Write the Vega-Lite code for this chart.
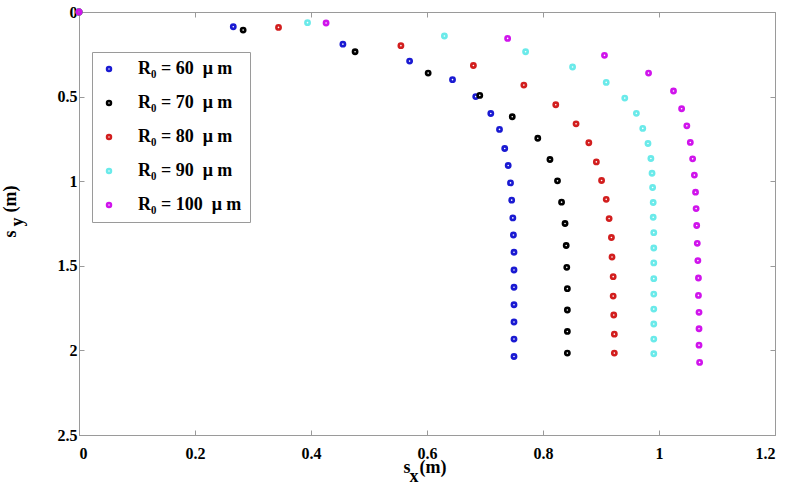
{
  "$schema": "https://vega.github.io/schema/vega-lite/v6.json",
  "width": 696,
  "height": 423,
  "autosize": {"type": "none"},
  "padding": {"left": 79, "top": 12, "right": 15, "bottom": 56},
  "background": "white",
  "config": {
    "view": {"stroke": "#9a9a9a", "strokeWidth": 1},
    "font": "Liberation Serif",
    "axis": {
      "grid": false,
      "domainColor": "#9a9a9a",
      "tickColor": "#9a9a9a",
      "tickSize": -5,
      "labelFont": "Liberation Serif",
      "labelFontWeight": "bold",
      "labelFontSize": 16,
      "labelColor": "black",
      "titleFont": "Liberation Serif",
      "titleFontWeight": "bold",
      "titleFontSize": 18,
      "titleColor": "black"
    }
  },
  "data": {
    "values": [
      {"r0": 60, "sx": 0, "sy": 0}, {"r0": 60, "sx": 0.266, "sy": 0.087}, {"r0": 60, "sx": 0.455, "sy": 0.19}, {"r0": 60, "sx": 0.57, "sy": 0.29}, {"r0": 60, "sx": 0.644, "sy": 0.4}, {"r0": 60, "sx": 0.684, "sy": 0.5}, {"r0": 60, "sx": 0.71, "sy": 0.6}, {"r0": 60, "sx": 0.725, "sy": 0.694}, {"r0": 60, "sx": 0.734, "sy": 0.807}, {"r0": 60, "sx": 0.74, "sy": 0.907}, {"r0": 60, "sx": 0.744, "sy": 1.01}, {"r0": 60, "sx": 0.746, "sy": 1.112}, {"r0": 60, "sx": 0.748, "sy": 1.217}, {"r0": 60, "sx": 0.749, "sy": 1.318}, {"r0": 60, "sx": 0.75, "sy": 1.42}, {"r0": 60, "sx": 0.75, "sy": 1.525}, {"r0": 60, "sx": 0.75, "sy": 1.627}, {"r0": 60, "sx": 0.75, "sy": 1.73}, {"r0": 60, "sx": 0.75, "sy": 1.832}, {"r0": 60, "sx": 0.75, "sy": 1.933}, {"r0": 60, "sx": 0.75, "sy": 2.036},
      {"r0": 70, "sx": 0, "sy": 0}, {"r0": 70, "sx": 0.283, "sy": 0.107}, {"r0": 70, "sx": 0.476, "sy": 0.235}, {"r0": 70, "sx": 0.602, "sy": 0.361}, {"r0": 70, "sx": 0.691, "sy": 0.493}, {"r0": 70, "sx": 0.747, "sy": 0.619}, {"r0": 70, "sx": 0.791, "sy": 0.746}, {"r0": 70, "sx": 0.812, "sy": 0.872}, {"r0": 70, "sx": 0.825, "sy": 0.998}, {"r0": 70, "sx": 0.832, "sy": 1.124}, {"r0": 70, "sx": 0.838, "sy": 1.25}, {"r0": 70, "sx": 0.84, "sy": 1.38}, {"r0": 70, "sx": 0.841, "sy": 1.509}, {"r0": 70, "sx": 0.842, "sy": 1.635}, {"r0": 70, "sx": 0.842, "sy": 1.761}, {"r0": 70, "sx": 0.842, "sy": 1.888}, {"r0": 70, "sx": 0.842, "sy": 2.016},
      {"r0": 80, "sx": 0, "sy": 0}, {"r0": 80, "sx": 0.344, "sy": 0.091}, {"r0": 80, "sx": 0.555, "sy": 0.199}, {"r0": 80, "sx": 0.68, "sy": 0.316}, {"r0": 80, "sx": 0.767, "sy": 0.432}, {"r0": 80, "sx": 0.822, "sy": 0.548}, {"r0": 80, "sx": 0.857, "sy": 0.661}, {"r0": 80, "sx": 0.879, "sy": 0.773}, {"r0": 80, "sx": 0.892, "sy": 0.886}, {"r0": 80, "sx": 0.901, "sy": 0.996}, {"r0": 80, "sx": 0.909, "sy": 1.107}, {"r0": 80, "sx": 0.914, "sy": 1.221}, {"r0": 80, "sx": 0.918, "sy": 1.333}, {"r0": 80, "sx": 0.919, "sy": 1.448}, {"r0": 80, "sx": 0.921, "sy": 1.564}, {"r0": 80, "sx": 0.921, "sy": 1.679}, {"r0": 80, "sx": 0.922, "sy": 1.791}, {"r0": 80, "sx": 0.923, "sy": 1.904}, {"r0": 80, "sx": 0.923, "sy": 2.016},
      {"r0": 90, "sx": 0, "sy": 0}, {"r0": 90, "sx": 0.394, "sy": 0.063}, {"r0": 90, "sx": 0.63, "sy": 0.142}, {"r0": 90, "sx": 0.77, "sy": 0.235}, {"r0": 90, "sx": 0.851, "sy": 0.325}, {"r0": 90, "sx": 0.909, "sy": 0.416}, {"r0": 90, "sx": 0.941, "sy": 0.509}, {"r0": 90, "sx": 0.961, "sy": 0.599}, {"r0": 90, "sx": 0.972, "sy": 0.688}, {"r0": 90, "sx": 0.981, "sy": 0.777}, {"r0": 90, "sx": 0.986, "sy": 0.866}, {"r0": 90, "sx": 0.988, "sy": 0.953}, {"r0": 90, "sx": 0.989, "sy": 1.037}, {"r0": 90, "sx": 0.99, "sy": 1.126}, {"r0": 90, "sx": 0.99, "sy": 1.213}, {"r0": 90, "sx": 0.991, "sy": 1.304}, {"r0": 90, "sx": 0.991, "sy": 1.395}, {"r0": 90, "sx": 0.991, "sy": 1.483}, {"r0": 90, "sx": 0.991, "sy": 1.576}, {"r0": 90, "sx": 0.991, "sy": 1.667}, {"r0": 90, "sx": 0.991, "sy": 1.756}, {"r0": 90, "sx": 0.991, "sy": 1.844}, {"r0": 90, "sx": 0.991, "sy": 1.933}, {"r0": 90, "sx": 0.991, "sy": 2.02},
      {"r0": 100, "sx": 0, "sy": 0}, {"r0": 100, "sx": 0.426, "sy": 0.065}, {"r0": 100, "sx": 0.739, "sy": 0.156}, {"r0": 100, "sx": 0.906, "sy": 0.256}, {"r0": 100, "sx": 0.982, "sy": 0.361}, {"r0": 100, "sx": 1.025, "sy": 0.467}, {"r0": 100, "sx": 1.039, "sy": 0.572}, {"r0": 100, "sx": 1.048, "sy": 0.673}, {"r0": 100, "sx": 1.054, "sy": 0.771}, {"r0": 100, "sx": 1.058, "sy": 0.868}, {"r0": 100, "sx": 1.061, "sy": 0.964}, {"r0": 100, "sx": 1.063, "sy": 1.065}, {"r0": 100, "sx": 1.064, "sy": 1.162}, {"r0": 100, "sx": 1.065, "sy": 1.262}, {"r0": 100, "sx": 1.066, "sy": 1.367}, {"r0": 100, "sx": 1.067, "sy": 1.469}, {"r0": 100, "sx": 1.068, "sy": 1.572}, {"r0": 100, "sx": 1.068, "sy": 1.675}, {"r0": 100, "sx": 1.069, "sy": 1.775}, {"r0": 100, "sx": 1.069, "sy": 1.872}, {"r0": 100, "sx": 1.069, "sy": 1.969}, {"r0": 100, "sx": 1.07, "sy": 2.071}
    ]
  },
  "layer": [
    {
      "mark": {"type": "point", "filled": false, "size": 18, "strokeWidth": 2.6, "opacity": 1},
      "encoding": {
        "x": {
          "field": "sx", "type": "quantitative",
          "scale": {"domain": [0, 1.2], "nice": false, "zero": false},
          "axis": {"values": [0, 0.2, 0.4, 0.6, 0.8, 1, 1.2], "format": "~g", "labelPadding": 15,
                   "title": "s\u00a0\u00a0(m)",
                   "titleAlign": "left", "titleAnchor": null, "titleBaseline": "alphabetic",
                   "titleX": 324, "titleY": 37}
        },
        "y": {
          "field": "sy", "type": "quantitative",
          "scale": {"domain": [0, 2.5], "reverse": true, "nice": false, "zero": false},
          "axis": {"values": [0, 0.5, 1, 1.5, 2, 2.5], "format": "~g", "labelPadding": 7,
                   "title": "s\u00a0\u00a0\u00a0\u00a0(m)",
                   "titleAlign": "left", "titleAnchor": null, "titleBaseline": "alphabetic", "titleAngle": -90,
                   "titleX": -64, "titleY": 225}
        },
        "color": {
          "field": "r0", "type": "nominal",
          "scale": {"domain": [60, 70, 80, 90, 100], "range": ["#1a1ad2", "#000000", "#d21e1e", "#6aeaea", "#d014ec"]},
          "legend": {
            "title": null, "orient": "none", "legendX": 13, "legendY": 40,
            "labelExpr": "'R\u2080 = ' + datum.label + '\u00a0\u00a0\u03bc m'",
            "labelFont": "Liberation Serif", "labelFontWeight": "bold", "labelFontSize": 18, "labelColor": "black",
            "symbolType": "circle", "symbolFillColor": "transparent", "symbolStrokeWidth": 2.5, "symbolSize": 16,
            "rowPadding": 16, "labelOffset": 20, "padding": 8,
            "strokeColor": "#9a9a9a", "fillColor": "white", "labelLimit": 300
          }
        }
      }
    },
    {
      "mark": {"type": "point", "opacity": 0},
      "encoding": {
        "x": {"field": "sx", "type": "quantitative",
              "axis": {"orient": "top", "values": [0, 0.2, 0.4, 0.6, 0.8, 1, 1.2], "labels": false, "domain": false,
                       "title": "x", "titleAlign": "left", "titleAnchor": null, "titleBaseline": "alphabetic", "titleAngle": 0,
                       "titleX": 330, "titleY": 469}},
        "y": {"field": "sy", "type": "quantitative",
              "axis": {"orient": "right", "values": [0, 0.5, 1, 1.5, 2, 2.5], "labels": false, "domain": false,
                       "title": "y", "titleAlign": "left", "titleAnchor": null, "titleBaseline": "alphabetic", "titleAngle": -90,
                       "titleX": -753, "titleY": 214}}
      }
    }
  ],
  "resolve": {"axis": {"x": "independent", "y": "independent"}}
}
